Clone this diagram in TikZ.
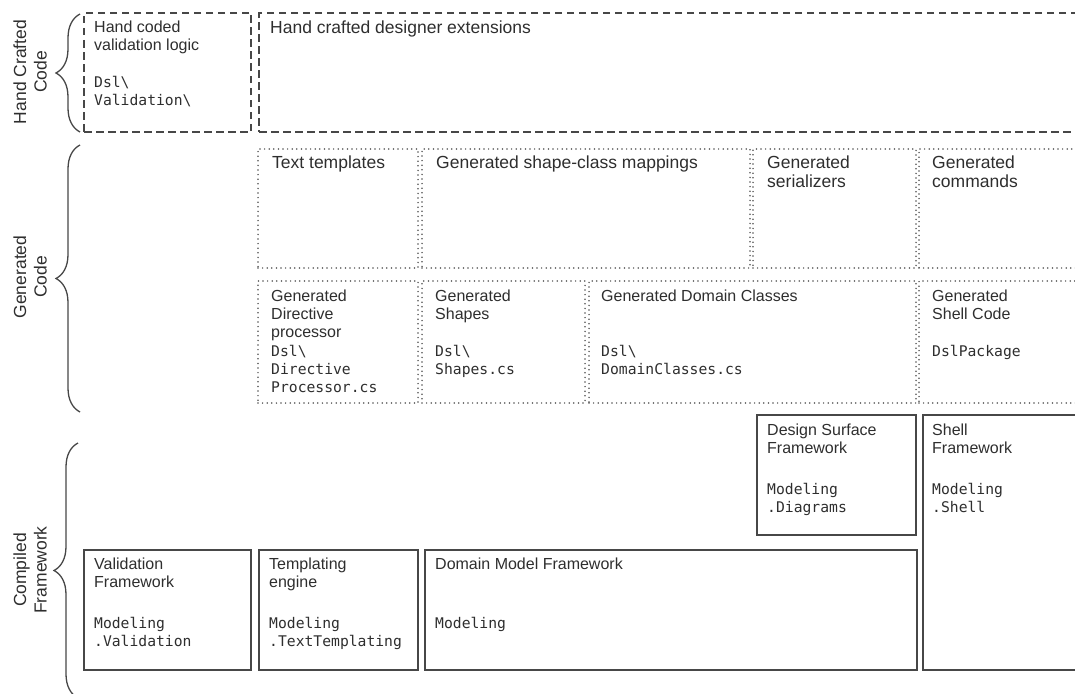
\documentclass[tikz,border=0pt]{standalone}
\usepackage{fontspec}
\setmainfont{Liberation Sans}
\setmonofont{DejaVu Sans Mono}
\usetikzlibrary{decorations.pathreplacing}
\definecolor{ink}{HTML}{474747}
\definecolor{txt}{HTML}{2E2E2E}
\definecolor{dotc}{HTML}{555555}
\begin{document}
\begin{tikzpicture}[x=1pt,y=-1pt,
  boxbase/.style={anchor=north west, inner sep=0pt, outer sep=0pt},
  solidbox/.style={boxbase, draw=ink, line width=1.9pt},
  dashbox/.style={boxbase, draw=ink, line width=1.9pt, dash pattern=on 7.5pt off 4.5pt},
  dotbox/.style={boxbase, draw=dotc, line width=1.7pt, line cap=round, dash pattern=on 0pt off 4.6pt},
  ttl/.style={anchor=north west, inner sep=0pt, align=left, text=txt, font=\fontsize{16}{18}\selectfont},
  bigttl/.style={ttl, font=\fontsize{17.5}{18.5}\selectfont},
  mono/.style={anchor=north west, inner sep=0pt, align=left, text=txt, font=\fontsize{14.7}{18}\ttfamily},
  side/.style={rotate=90, align=center, text=txt, inner sep=0pt, font=\fontsize{17.5}{20.5}\selectfont},
  bracestyle/.style={draw=ink, line width=1.3pt, decorate, decoration={brace, amplitude=24pt}}
]
\useasboundingbox (0,0) rectangle (1075,693);

% ---------- Hand crafted code ----------
\node[dashbox, minimum width=167pt, minimum height=119pt] (hcv) at (84,13) {};
\node[dashbox, minimum width=830pt, minimum height=119pt] (hcd) at (259,13) {};
\node[ttl] (hcvt) at ([xshift=10pt,yshift=-8pt]hcv.north west) {Hand coded\\validation logic};
\node[mono] (hcvm) at ([xshift=10pt,yshift=-63pt]hcv.north west) {Dsl\textbackslash\\Validation\textbackslash};
\node[bigttl] (hcdt) at ([xshift=11pt,yshift=-8pt]hcd.north west) {Hand crafted designer extensions};

% ---------- Generated code, row 1 ----------
\node[dotbox, minimum width=160pt, minimum height=119pt] (tt) at (258,149) {};
\node[dotbox, minimum width=328pt, minimum height=119pt] (gsm) at (422,149) {};
\node[dotbox, minimum width=163pt, minimum height=119pt] (gser) at (753,149) {};
\node[dotbox, minimum width=171pt, minimum height=119pt] (gcmd) at (919,149) {};
\node[bigttl] (ttt) at ([xshift=14pt,yshift=-7pt]tt.north west) {Text templates};
\node[bigttl] (gsmt) at ([xshift=14pt,yshift=-7pt]gsm.north west) {Generated shape-class mappings};
\node[bigttl] (gsert) at ([xshift=14pt,yshift=-7pt]gser.north west) {Generated\\serializers};
\node[bigttl] (gcmdt) at ([xshift=13pt,yshift=-7pt]gcmd.north west) {Generated\\commands};

% ---------- Generated code, row 2 ----------
\node[dotbox, minimum width=160pt, minimum height=122pt] (gdp) at (258,281) {};
\node[dotbox, minimum width=163pt, minimum height=122pt] (gsh) at (422,281) {};
\node[dotbox, minimum width=327pt, minimum height=122pt] (gdc) at (589,281) {};
\node[dotbox, minimum width=171pt, minimum height=122pt] (gshell) at (919,281) {};
\node[ttl] (gdpt) at ([xshift=13pt,yshift=-9pt]gdp.north west) {Generated\\Directive\\processor};
\node[mono] (gdpm) at ([xshift=13pt,yshift=-64pt]gdp.north west) {Dsl\textbackslash\\Directive\\Processor.cs};
\node[ttl] (gsht) at ([xshift=13pt,yshift=-9pt]gsh.north west) {Generated\\Shapes};
\node[mono] (gshm) at ([xshift=13pt,yshift=-64pt]gsh.north west) {Dsl\textbackslash\\Shapes.cs};
\node[ttl] (gdct) at ([xshift=12pt,yshift=-9pt]gdc.north west) {Generated Domain Classes};
\node[mono] (gdcm) at ([xshift=12pt,yshift=-64pt]gdc.north west) {Dsl\textbackslash\\DomainClasses.cs};
\node[ttl] (gshellt) at ([xshift=13pt,yshift=-9pt]gshell.north west) {Generated\\Shell Code};
\node[mono] (gshellm) at ([xshift=13pt,yshift=-64pt]gshell.north west) {DslPackage};

% ---------- Compiled framework ----------
\node[solidbox, minimum width=167pt, minimum height=120pt] (vf) at (84,550) {};
\node[solidbox, minimum width=159pt, minimum height=120pt] (te) at (259,550) {};
\node[solidbox, minimum width=492pt, minimum height=120pt] (dmf) at (425,550) {};
\node[solidbox, minimum width=159pt, minimum height=120pt] (dsf) at (757,415) {};
\node[solidbox, minimum width=167pt, minimum height=255pt] (sf) at (923,415) {};
\node[ttl] (vft) at ([xshift=10pt,yshift=-8pt]vf.north west) {Validation\\Framework};
\node[mono] (vfm) at ([xshift=10pt,yshift=-67pt]vf.north west) {Modeling\\.Validation};
\node[ttl] (tet) at ([xshift=10pt,yshift=-8pt]te.north west) {Templating\\engine};
\node[mono] (tem) at ([xshift=10pt,yshift=-67pt]te.north west) {Modeling\\.TextTemplating};
\node[ttl] (dmft) at ([xshift=10pt,yshift=-8pt]dmf.north west) {Domain Model Framework};
\node[mono] (dmfm) at ([xshift=10pt,yshift=-67pt]dmf.north west) {Modeling};
\node[ttl] (dsft) at ([xshift=10pt,yshift=-9pt]dsf.north west) {Design Surface\\Framework};
\node[mono] (dsfm) at ([xshift=10pt,yshift=-68pt]dsf.north west) {Modeling\\.Diagrams};
\node[ttl] (sft) at ([xshift=9pt,yshift=-9pt]sf.north west) {Shell\\Framework};
\node[mono] (sfm) at ([xshift=9pt,yshift=-68pt]sf.north west) {Modeling\\.Shell};

% ---------- Braces and side labels ----------
\coordinate (b1s) at (80,132);
\coordinate (b1e) at (80,14);
\coordinate (b2s) at (80,412);
\coordinate (b2e) at (80,145);
\coordinate (b3s) at (78,698);
\coordinate (b3e) at (78,443);
\draw[bracestyle] (b1s) -- (b1e);
\draw[bracestyle] (b2s) -- (b2e);
\draw[bracestyle] (b3s) -- (b3e);
\node[side] (lhc) at (30,72) {Hand Crafted\\Code};
\node[side] (lgc) at (30,277) {Generated\\Code};
\node[side] (lcf) at (30,570) {Compiled\\Framework};
\end{tikzpicture}
\end{document}
